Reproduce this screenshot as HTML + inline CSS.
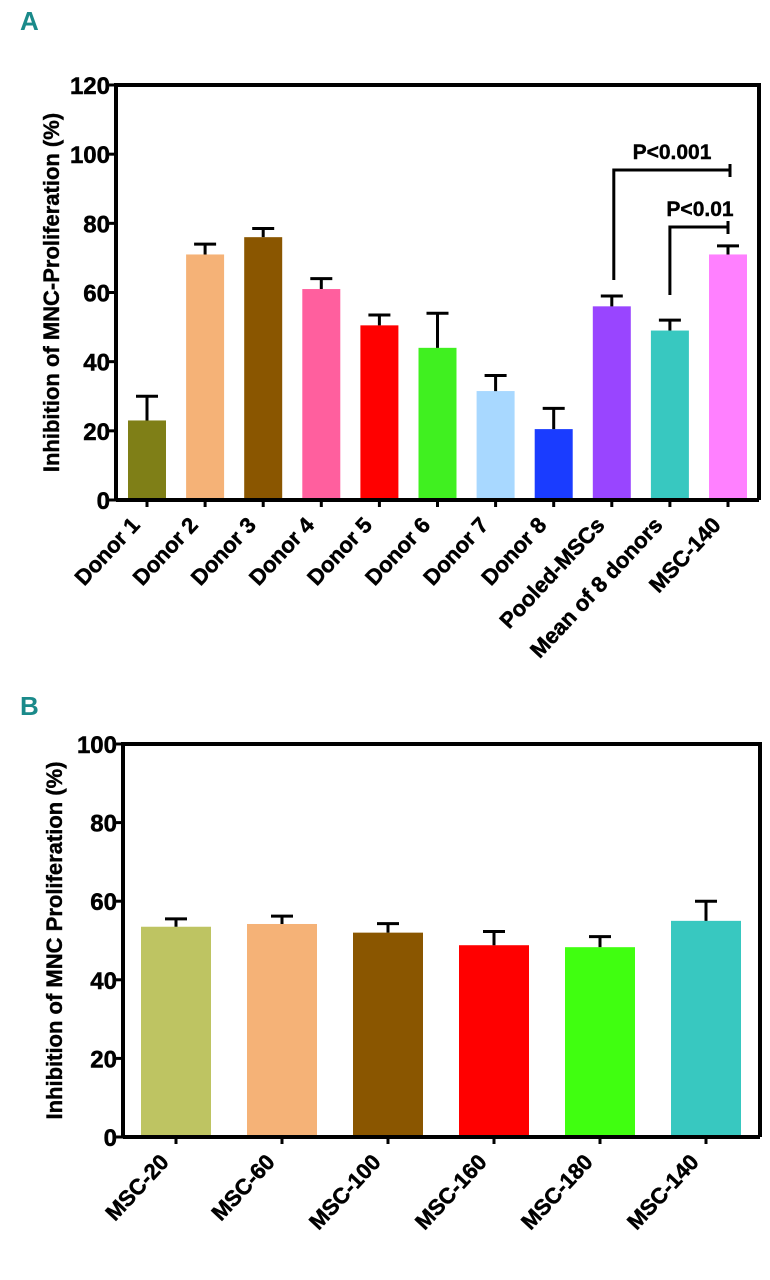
<!DOCTYPE html>
<html><head><meta charset="utf-8"><style>
html,body{margin:0;padding:0;background:#fff;}
svg{display:block;font-family:"Liberation Sans",Arial,sans-serif;font-weight:bold;}
</style></head><body>
<svg id="chart" width="770" height="1280" viewBox="0 0 770 1280">
<text x="20" y="30" font-size="26" fill="#1a8a8a">A</text>
<text x="20" y="715" font-size="26" fill="#1a8a8a">B</text>
<g id="pa"></g>
<g id="pb"></g>
</svg>
<script>
const catsA=["Donor 1","Donor 2","Donor 3","Donor 4","Donor 5","Donor 6","Donor 7","Donor 8","Pooled-MSCs","Mean of 8 donors","MSC-140"];
const valsA=[23,71,76,61,50.5,44,31.5,20.5,56,49,71];
const errsA=[7,3,2.5,3,3,10,4.5,6,3,3,2.5];
const colorsA=["#7f7f17","#f5b277","#8a5600","#ff5f9e","#ff0000","#40f020","#a8d8ff","#1a3cff","#9945ff","#38c8c0","#ff80ff"];
const ticksA=[0,20,40,60,80,100,120];
const catsB=["MSC-20","MSC-60","MSC-100","MSC-160","MSC-180","MSC-140"];
const valsB=[53.5,54.2,52,48.8,48.3,55];
const errsB=[2,2,2.3,3.5,2.7,5];
const colorsB=["#bec462","#f5b277","#8a5600","#ff0000","#40ff10","#38c8c0"];
const ticksB=[0,20,40,60,80,100];
const NS="http://www.w3.org/2000/svg";
function mk(p,t,a){const e=document.createElementNS(NS,t);for(const k in a)e.setAttribute(k,a[k]);p.appendChild(e);return e;}
function panel(g,o){
  const y=v=>o.y0-(v/o.max)*(o.y0-o.y1);
  const x=i=>o.c0+i*o.pitch;
  o.cats.forEach((c,i)=>{
    const r=mk(g,'rect',{x:x(i)-o.bw/2,y:y(o.vals[i]),width:o.bw,height:o.y0-y(o.vals[i]),fill:o.colors[i]});
    
    
    const et=y(o.vals[i]+o.errs[i]);
    const e=mk(g,'path',{d:`M${x(i)} ${y(o.vals[i])}V${et}M${x(i)-11} ${et}H${x(i)+11}`,stroke:'#000','stroke-width':3,fill:'none'});
    
    
    const t=mk(g,'line',{x1:x(i),x2:x(i),y1:o.y0,y2:o.y0+7,stroke:'#000','stroke-width':3});
    
    
    const lx=x(i)-6, ly=o.y0+26;
    const l=mk(g,'text',{x:lx,y:ly,'font-size':22,'text-anchor':'end',stroke:'#000','stroke-width':0.5,transform:`rotate(-47 ${lx} ${ly})`});
    l.textContent=c;
    
    
  });
  const ax=mk(g,'path',{d:`M${o.xa} ${o.y0}V${o.y1}H${o.xr}V${o.y0}M${o.xa} ${o.y0}H${o.xr}`,stroke:'#000','stroke-width':4,fill:'none'});
  
  
  o.ticks.forEach(v=>{
    const t=mk(g,'line',{x1:o.xa-7,x2:o.xa,y1:y(v),y2:y(v),stroke:'#000','stroke-width':3});
    
    
    const l=mk(g,'text',{x:o.xa-6,y:y(v)+9,'font-size':24,'text-anchor':'end',stroke:'#000','stroke-width':0.5});
    l.textContent=v;
    
    
  });
  const yt=mk(g,'text',{x:0,y:0,'font-size':22,'text-anchor':'middle',stroke:'#000','stroke-width':0.4,transform:`translate(${o.tx} ${(o.y0+o.y1)/2}) rotate(-90)`});
  yt.textContent=o.title;
  
  
  return {x,y};
}
const A=panel(document.getElementById('pa'),{cats:catsA,vals:valsA,errs:errsA,colors:colorsA,ticks:ticksA,max:120,y0:500,y1:85,xa:116,xr:759,c0:147,pitch:58.1,bw:38,tx:59,title:"Inhibition of MNC-Proliferation (%)"});
panel(document.getElementById('pb'),{cats:catsB,vals:valsB,errs:errsB,colors:colorsB,ticks:ticksB,max:100,y0:1137,y1:744,xa:123,xr:760,c0:176,pitch:106,bw:70,tx:62,title:"Inhibition of MNC Proliferation (%)"});
const ga=document.getElementById('pa');
const b1=mk(ga,'path',{d:`M${A.x(8)+2} 280V170H730M730 164V177`,stroke:'#000','stroke-width':3,fill:'none'});


const s1=mk(ga,'text',{x:672,y:159,'font-size':21,'text-anchor':'middle',stroke:'#000','stroke-width':0.4});s1.textContent="P<0.001";


const b2=mk(ga,'path',{d:`M${A.x(9)} 295V227H728M728 221V234`,stroke:'#000','stroke-width':3,fill:'none'});


const s2=mk(ga,'text',{x:700,y:216,'font-size':21,'text-anchor':'middle',stroke:'#000','stroke-width':0.4});s2.textContent="P<0.01";


</script>
</body></html>
